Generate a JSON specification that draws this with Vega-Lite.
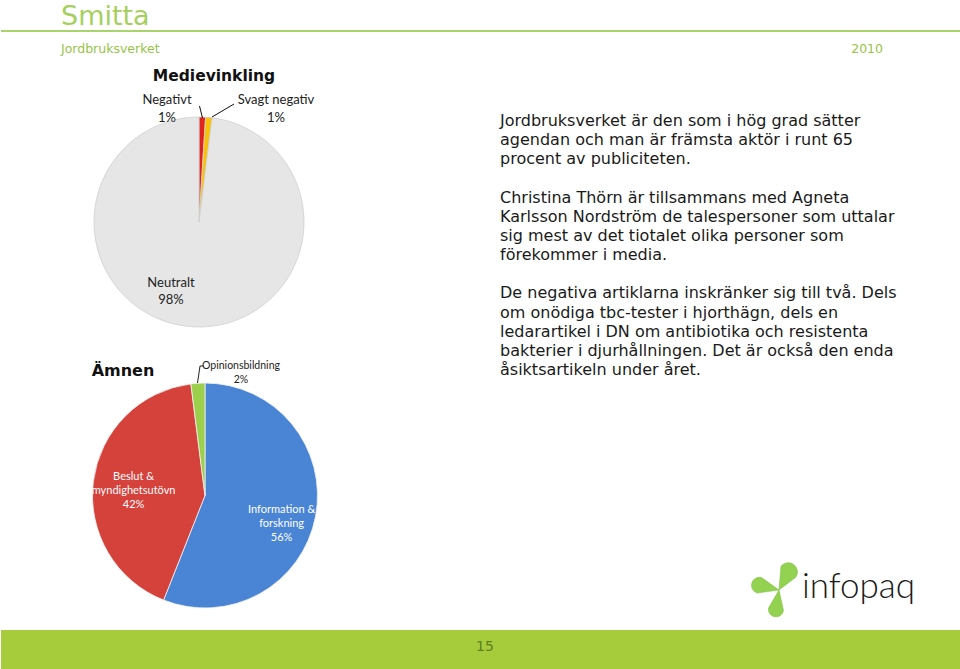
{
  "$schema": "https://vega.github.io/schema/vega-lite/v6.json",
  "width": 960,
  "height": 669,
  "autosize": {"type": "fit", "contains": "padding"},
  "padding": 0,
  "background": "#ffffff",
  "config": {"view": {"stroke": null}},
  "datasets": {
    "medievinkling": [
      {"idx": 1, "category": "Negativt", "share": 1, "label": "Negativt\n1%"},
      {"idx": 2, "category": "Svagt negativ", "share": 1, "label": "Svagt negativ\n1%"},
      {"idx": 3, "category": "Neutralt", "share": 98, "label": "Neutralt\n98%"}
    ],
    "amnen": [
      {"idx": 1, "category": "Information & forskning", "share": 56, "label": "Information &\nforskning\n56%"},
      {"idx": 2, "category": "Beslut & myndighetsutövn", "share": 42, "label": "Beslut &\nmyndighetsutövn\n42%"},
      {"idx": 3, "category": "Opinionsbildning", "share": 2, "label": "Opinionsbildning\n2%"}
    ],
    "paragraph": [
      {"line": 1, "text": "Jordbruksverket är den som i hög grad sätter"},
      {"line": 2, "text": "agendan och man är främsta aktör i runt 65"},
      {"line": 3, "text": "procent av publiciteten."},
      {"line": 5, "text": "Christina Thörn är tillsammans med Agneta"},
      {"line": 6, "text": "Karlsson Nordström de talespersoner som uttalar"},
      {"line": 7, "text": "sig mest av det tiotalet olika personer som"},
      {"line": 8, "text": "förekommer i media."},
      {"line": 10, "text": "De negativa artiklarna inskränker sig till två. Dels"},
      {"line": 11, "text": "om onödiga tbc-tester i hjorthägn, dels en"},
      {"line": 12, "text": "ledarartikel i DN om antibiotika och resistenta"},
      {"line": 13, "text": "bakterier i djurhållningen. Det är också den enda"},
      {"line": 14, "text": "åsiktsartikeln under året."}
    ]
  },
  "layer": [
    {
      "data": {"values": [{}]},
      "mark": {"type": "text", "text": "Smitta", "x": 60, "y": 25, "align": "left", "baseline": "alphabetic", "font": "DejaVu Sans", "fontSize": 27, "color": "#a6d05e"},
      "encoding": {}
    },
    {
      "data": {"values": [{}]},
      "mark": {"type": "rule", "stroke": "#a9d46b", "strokeWidth": 2},
      "encoding": {"x": {"value": 0}, "x2": {"value": 960}, "y": {"value": 31}, "y2": {"value": 31}}
    },
    {
      "data": {"values": [{}]},
      "mark": {"type": "text", "text": "Jordbruksverket", "x": 60, "y": 53, "align": "left", "baseline": "alphabetic", "font": "DejaVu Sans", "fontSize": 12.5, "color": "#96c447"},
      "encoding": {}
    },
    {
      "data": {"values": [{}]},
      "mark": {"type": "text", "text": "2010", "x": 882, "y": 53, "align": "right", "baseline": "alphabetic", "font": "DejaVu Sans", "fontSize": 12.5, "color": "#96c447"},
      "encoding": {}
    },
    {
      "data": {"name": "medievinkling"},
      "mark": {"type": "arc", "x": 198, "y": 222, "outerRadius": 105, "stroke": "#cfcfcf", "strokeWidth": 0.8},
      "encoding": {
        "theta": {"field": "share", "type": "quantitative", "stack": true},
        "order": {"field": "idx", "type": "quantitative"},
        "color": {
          "field": "category", "type": "nominal", "legend": null,
          "scale": {
            "domain": ["Negativt", "Svagt negativ", "Neutralt", "Information & forskning", "Beslut & myndighetsutövn", "Opinionsbildning"],
            "range": ["#e1231b", "#f9c20a", "#e6e6e6", "#4a85d5", "#d5413b", "#9ccf4c"]
          }
        }
      }
    },
    {
      "data": {"name": "amnen"},
      "mark": {"type": "arc", "x": 204, "y": 495.5, "outerRadius": 112.5, "stroke": "#f2f2f2", "strokeWidth": 0.8},
      "encoding": {
        "theta": {"field": "share", "type": "quantitative", "stack": true},
        "order": {"field": "idx", "type": "quantitative"},
        "color": {"field": "category", "type": "nominal", "legend": null}
      }
    },
    {
      "data": {"values": [{}]},
      "mark": {"type": "text", "text": "Medievinkling", "x": 213, "y": 76, "align": "center", "baseline": "middle", "font": "DejaVu Sans", "fontWeight": "bold", "fontSize": 15.5, "color": "#111111"},
      "encoding": {}
    },
    {
      "data": {"values": [{}]},
      "mark": {"type": "text", "text": "Ämnen", "x": 122, "y": 371, "align": "center", "baseline": "middle", "font": "DejaVu Sans", "fontWeight": "bold", "fontSize": 16, "color": "#111111"},
      "encoding": {}
    },
    {
      "data": {"name": "medievinkling"},
      "transform": [{"filter": "datum.category === 'Negativt'"}],
      "mark": {"type": "text", "x": 166, "y": 100, "align": "center", "baseline": "middle", "lineBreak": "\n", "lineHeight": 18, "font": "Lato", "fontSize": 13, "color": "#222222"},
      "encoding": {"text": {"field": "label", "type": "nominal"}}
    },
    {
      "data": {"name": "medievinkling"},
      "transform": [{"filter": "datum.category === 'Svagt negativ'"}],
      "mark": {"type": "text", "x": 275, "y": 100, "align": "center", "baseline": "middle", "lineBreak": "\n", "lineHeight": 18, "font": "Lato", "fontSize": 13, "color": "#222222"},
      "encoding": {"text": {"field": "label", "type": "nominal"}}
    },
    {
      "data": {"name": "medievinkling"},
      "transform": [{"filter": "datum.category === 'Neutralt'"}],
      "mark": {"type": "text", "x": 170, "y": 283, "align": "center", "baseline": "middle", "lineBreak": "\n", "lineHeight": 17, "font": "Lato", "fontSize": 13, "color": "#222222"},
      "encoding": {"text": {"field": "label", "type": "nominal"}}
    },
    {
      "data": {"values": [{}]},
      "mark": {"type": "rule", "stroke": "#111111", "strokeWidth": 1},
      "encoding": {"x": {"value": 198.5}, "y": {"value": 106}, "x2": {"value": 201.5}, "y2": {"value": 118}}
    },
    {
      "data": {"values": [{}]},
      "mark": {"type": "rule", "stroke": "#111111", "strokeWidth": 1},
      "encoding": {"x": {"value": 233}, "y": {"value": 104}, "x2": {"value": 211}, "y2": {"value": 117}}
    },
    {
      "data": {"name": "amnen"},
      "mark": {"type": "text", "x": 204, "y": 495.5, "radius": 78, "dy": 0, "align": "center", "baseline": "middle", "lineBreak": "\n", "lineHeight": 14, "font": "Lato", "fontSize": 11, "color": "#ffffff"},
      "encoding": {
        "theta": {"field": "share", "type": "quantitative", "stack": true},
        "order": {"field": "idx", "type": "quantitative"},
        "text": {"field": "label", "type": "nominal"},
        "opacity": {"condition": {"test": "datum.category === 'Information & forskning'", "value": 1}, "value": 0}
      }
    },
    {
      "data": {"name": "amnen"},
      "mark": {"type": "text", "x": 204, "y": 495.5, "radius": 72, "dy": -9, "align": "center", "baseline": "middle", "lineBreak": "\n", "lineHeight": 14, "font": "Lato", "fontSize": 11, "color": "#ffffff"},
      "encoding": {
        "theta": {"field": "share", "type": "quantitative", "stack": true},
        "order": {"field": "idx", "type": "quantitative"},
        "text": {"field": "label", "type": "nominal"},
        "opacity": {"condition": {"test": "datum.category === 'Beslut & myndighetsutövn'", "value": 1}, "value": 0}
      }
    },
    {
      "data": {"name": "amnen"},
      "transform": [{"filter": "datum.category === 'Opinionsbildning'"}],
      "mark": {"type": "text", "x": 240, "y": 366, "align": "center", "baseline": "middle", "lineBreak": "\n", "lineHeight": 14, "font": "Lato", "fontSize": 10.5, "color": "#222222"},
      "encoding": {"text": {"field": "label", "type": "nominal"}}
    },
    {
      "data": {"values": [{}]},
      "mark": {"type": "rule", "stroke": "#222222", "strokeWidth": 1},
      "encoding": {"x": {"value": 199}, "y": {"value": 366}, "x2": {"value": 196.5}, "y2": {"value": 383}}
    },
    {
      "data": {"values": [{}]},
      "mark": {"type": "rule", "stroke": "#222222", "strokeWidth": 1},
      "encoding": {"x": {"value": 199}, "y": {"value": 366}, "x2": {"value": 203}, "y2": {"value": 366}}
    },
    {
      "data": {"name": "paragraph"},
      "mark": {"type": "text", "x": 499, "align": "left", "baseline": "middle", "font": "DejaVu Sans", "fontSize": 16, "color": "#1a1a1a"},
      "encoding": {
        "y": {"field": "line", "type": "quantitative", "scale": {"domain": [1, 14], "range": [121, 370]}, "axis": null},
        "text": {"field": "text", "type": "nominal"}
      }
    },
    {
      "data": {"values": [{}]},
      "mark": {"type": "rect", "fill": "#a6cc3c"},
      "encoding": {"x": {"value": 0}, "x2": {"value": 960}, "y": {"value": 630}, "y2": {"value": 669}}
    },
    {
      "data": {"values": [{}]},
      "mark": {"type": "text", "text": "15", "x": 484, "y": 647, "align": "center", "baseline": "middle", "font": "DejaVu Sans", "fontSize": 14, "color": "#5b7f22"},
      "encoding": {}
    },
    {
      "data": {"values": [{}]},
      "mark": {
        "type": "point", "x": 778, "y": 590, "size": 2500, "filled": true, "fill": "#93d150", "opacity": 1, "stroke": "#79bd3c", "strokeWidth": 0.5,
        "shape": "M0,0 L0.66,-0.5 A0.32,0.32 0 0 0 0.08,-0.95 Z M0,0 L-0.7,-0.5 A0.3,0.3 0 0 0 -0.86,0.12 Z M0,0 L-0.42,0.72 A0.3,0.3 0 0 0 0.18,0.82 Z"
      },
      "encoding": {}
    },
    {
      "data": {"values": [{}]},
      "mark": {"type": "text", "text": "infopaq", "x": 801, "y": 598, "align": "left", "baseline": "alphabetic", "font": "Lato", "fontWeight": 300, "fontSize": 35, "color": "#1a1a1a"},
      "encoding": {}
    }
  ],
  "resolve": {"scale": {"theta": "independent"}}
}
